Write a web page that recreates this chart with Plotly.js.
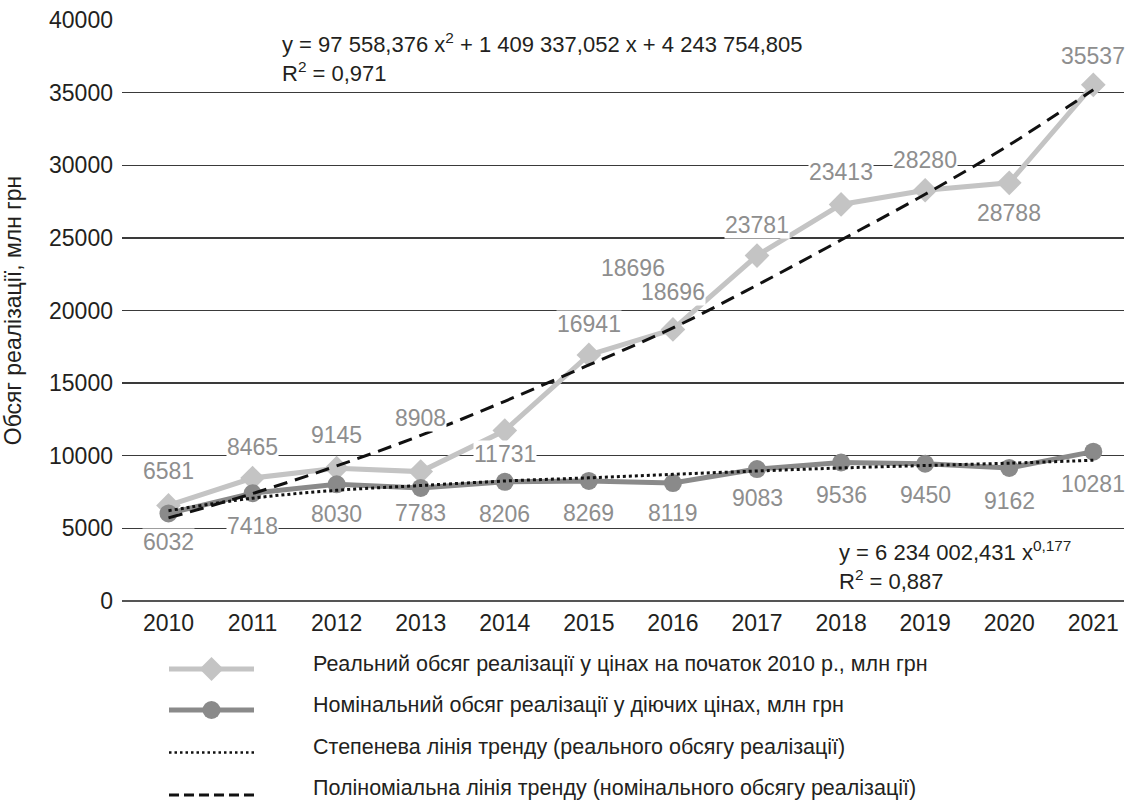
<!DOCTYPE html>
<html>
<head>
<meta charset="utf-8">
<script src="https://cdn.plot.ly/plotly-3.0.1.min.js"></script>
<style>html,body{margin:0;padding:0;background:#fff;}#chart{width:1126px;height:805px;}</style>
</head>
<body>
<div id="chart"></div>
<script>
// ---- data ----
const years = [2010, 2011, 2012, 2013, 2014, 2015, 2016, 2017, 2018, 2019, 2020, 2021];
const realValues = [6581, 8465, 9145, 8908, 11731, 16941, 18696, 23781, 27300, 28280, 28788, 35537];
const realLabels = ['6581', '8465', '9145', '8908', '11731', '16941', '18696', '23781', '23413', '28280', '28788', '35537'];
const nominalValues = [6032, 7418, 8030, 7783, 8206, 8269, 8119, 9083, 9536, 9450, 9162, 10281];
const nominalLabels = ['6032', '7418', '8030', '7783', '8206', '8269', '8119', '9083', '9536', '9450', '9162', '10281'];
const powerTrend = [6220, 7080, 7620, 7950, 8260, 8480, 8720, 8950, 9160, 9330, 9490, 9690];
const polyTrend = [5720, 7400, 9300, 11400, 13750, 16250, 18800, 21750, 24850, 28000, 31400, 35200];
const extraLabelYear = 2016;
const extraLabelText = '18696';
const yTickVals = [0, 5000, 10000, 15000, 20000, 25000, 30000, 35000, 40000];

const seriesNames = [
  'Реальний обсяг реалізації у цінах на початок 2010 р., млн грн',
  'Номінальний обсяг реалізації у діючих цінах, млн грн',
  'Степенева лінія тренду (реального обсягу реалізації)',
  'Поліноміальна лінія тренду (номінального обсягу реалізації)'
];
const yTitle = 'Обсяг реалізації, млн грн';
const eqPoly = 'y = 97 558,376 x<sup>2</sup> + 1 409 337,052 x + 4 243 754,805<br>R<sup>2</sup> = 0,971';
const eqPower = 'y = 6 234 002,431 x<sup>0,177</sup><br>R<sup>2</sup> = 0,887';

// ---- style ----
const FONT = "'Liberation Sans Narrow', 'Arial Narrow', 'Liberation Sans', Arial, sans-serif";
const TXT = '#231f20';
const LBL = '#8e8e8e';
const C_REAL = '#c4c4c4';
const C_NOM = '#8a8a8a';
const realShift = [34, 31, 33, 54, -23, 31, 37, 31, 32, 30, -30, 29];
const nomShift = [-29, -33, -30, -25, -32, -32, -30, -29, -33, -31, -33, -32];

const W = 1126, H = 805;
const M = {l: 122, r: 2, t: 20, b: 204};
const pw = W - M.l - M.r, ph = H - M.t - M.b;
const px = x => (x - M.l) / pw;
const py = y => (H - M.b - y) / ph;

const traces = [
  {x: years, y: realValues, type: 'scatter', mode: 'lines+markers', name: seriesNames[0],
   line: {color: C_REAL, width: 5}, marker: {symbol: 'diamond', size: 19, color: C_REAL}},
  {x: years, y: nominalValues, type: 'scatter', mode: 'lines+markers', name: seriesNames[1],
   line: {color: C_NOM, width: 5}, marker: {symbol: 'circle', size: 18, color: C_NOM}},
  {x: years, y: powerTrend, type: 'scatter', mode: 'lines', name: seriesNames[2],
   line: {color: '#111', width: 3, dash: '3px,3px', shape: 'spline'}},
  {x: years, y: polyTrend, type: 'scatter', mode: 'lines', name: seriesNames[3],
   line: {color: '#111', width: 3, dash: '14px,8px', shape: 'spline'}}
];

const annotations = [];
years.forEach((yr, i) => {
  annotations.push({x: yr, y: realValues[i], xref: 'x', yref: 'y', text: realLabels[i], showarrow: false,
    yshift: realShift[i], font: {family: FONT, size: 23, color: LBL}, bgcolor: '#fff', borderpad: 0});
  annotations.push({x: yr, y: nominalValues[i], xref: 'x', yref: 'y', text: nominalLabels[i], showarrow: false,
    yshift: nomShift[i], font: {family: FONT, size: 23, color: LBL}, bgcolor: '#fff', borderpad: 0});
});
const ei = years.indexOf(extraLabelYear);
annotations.push({x: extraLabelYear, y: realValues[ei], xref: 'x', yref: 'y', text: extraLabelText, showarrow: false,
  xshift: -40, yshift: 61, font: {family: FONT, size: 23, color: LBL}, bgcolor: '#fff', borderpad: 0});

annotations.push({xref: 'paper', yref: 'paper', x: px(280), y: py(57), xanchor: 'left', yanchor: 'middle',
  align: 'left', text: eqPoly, showarrow: false, font: {family: FONT, size: 22, color: TXT}});
annotations.push({xref: 'paper', yref: 'paper', x: px(837), y: py(565), xanchor: 'left', yanchor: 'middle',
  align: 'left', text: eqPower, showarrow: false, font: {family: FONT, size: 22, color: TXT}});

// custom legend
const legY = [669, 710, 752.5, 795];
const legTextY = [664, 705, 747, 788];
const shapes = [];
shapes.push({type: 'line', xref: 'paper', yref: 'paper', x0: px(169), x1: px(254), y0: py(legY[0]), y1: py(legY[0]),
  line: {color: C_REAL, width: 5}});
shapes.push({type: 'path', xref: 'paper', yref: 'paper', xsizemode: 'pixel', ysizemode: 'pixel',
  xanchor: px(211.5), yanchor: py(legY[0]), path: 'M0,12L12,0L0,-12L-12,0Z',
  fillcolor: C_REAL, line: {width: 0}});
shapes.push({type: 'line', xref: 'paper', yref: 'paper', x0: px(169), x1: px(254), y0: py(legY[1]), y1: py(legY[1]),
  line: {color: C_NOM, width: 5}});
shapes.push({type: 'circle', xref: 'paper', yref: 'paper', xsizemode: 'pixel', ysizemode: 'pixel',
  xanchor: px(211.5), yanchor: py(legY[1]), x0: -9, x1: 9, y0: -9, y1: 9,
  fillcolor: C_NOM, line: {width: 0}});
shapes.push({type: 'line', xref: 'paper', yref: 'paper', x0: px(169), x1: px(254), y0: py(legY[2]), y1: py(legY[2]),
  line: {color: '#111', width: 2.5, dash: '2.5px,3px'}});
shapes.push({type: 'line', xref: 'paper', yref: 'paper', x0: px(169), x1: px(254), y0: py(legY[3]), y1: py(legY[3]),
  line: {color: '#111', width: 3, dash: '10px,5px'}});
seriesNames.forEach((n, i) => {
  annotations.push({xref: 'paper', yref: 'paper', x: px(311), y: py(legTextY[i]), xanchor: 'left', yanchor: 'middle',
    text: n, showarrow: false, font: {family: FONT, size: 21.5, color: TXT}});
});

const layout = {
  width: W, height: H,
  margin: M,
  paper_bgcolor: '#fff', plot_bgcolor: '#fff',
  showlegend: false,
  font: {family: FONT, color: TXT, size: 23},
  xaxis: {
    range: [2009.447, 2021.365], tickmode: 'array', tickvals: years, ticktext: years.map(String),
    showgrid: false, zeroline: false, showline: false, ticks: '', ticklabelstandoff: 6,
    tickfont: {family: FONT, size: 23, color: TXT}, fixedrange: true
  },
  yaxis: {
    range: [0, 40000], tickmode: 'array', tickvals: yTickVals, tickformat: 'd',
    showgrid: true, gridcolor: '#3a3a3a', gridwidth: 1.3,
    zeroline: true, zerolinecolor: '#555', zerolinewidth: 2.7,
    showline: false, ticks: '', ticklabelstandoff: 8,
    tickfont: {family: FONT, size: 23, color: TXT},
    title: {text: yTitle, font: {family: FONT, size: 23, color: TXT}, standoff: 24},
    fixedrange: true
  },
  annotations: annotations,
  shapes: shapes
};

Plotly.newPlot('chart', traces, layout, {displayModeBar: false, staticPlot: true});
</script>
</body>
</html>
